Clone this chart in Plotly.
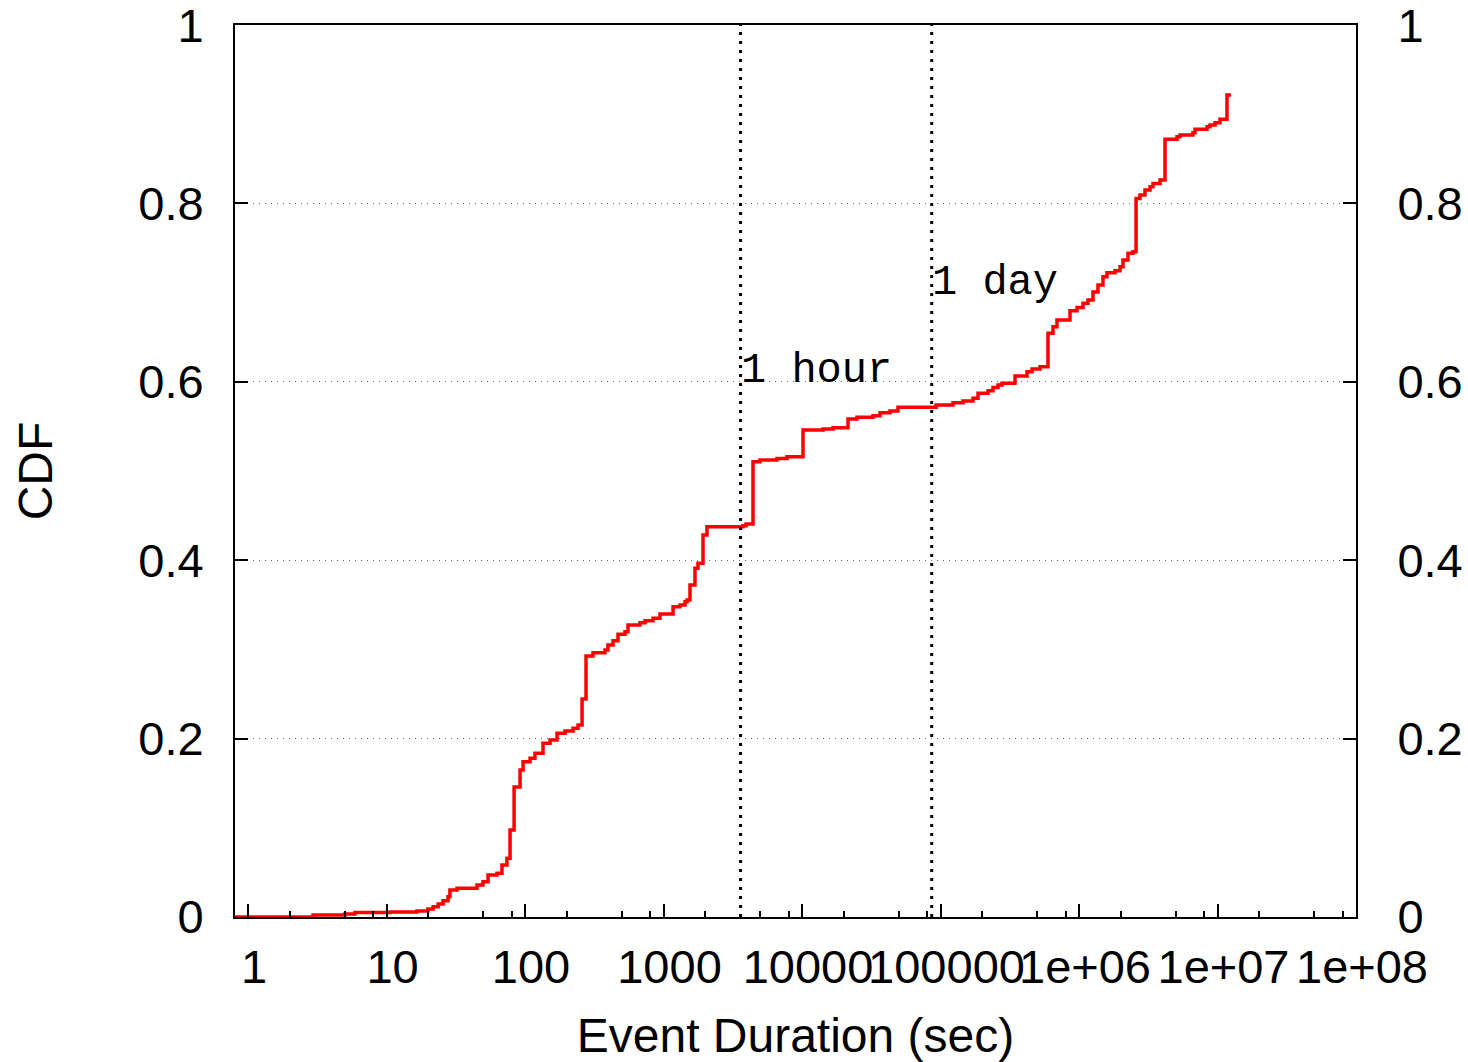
import math
import plotly.graph_objects as go

# ---- data ----
duration_sec = [0.806, 2.95, 5.0, 5.92, 10.6, 16.6, 19.9, 21.7, 23.6, 25.6, 27.8, 28.7, 32.3,
                45.0, 49.7, 54.1, 62.8, 68.2, 74.1, 78.0, 83.4, 92.1, 96.8, 108.7, 118,
                134.9, 151.6, 170.3, 194.5, 222.2, 241.5, 258.2, 275.7, 309.7, 378, 397,
                431.9, 469.3, 527, 554, 676, 735, 840, 943, 1172, 1316, 1430, 1479, 1553,
                1687, 1774, 1928, 2061, 3750, 3945, 4428, 4975, 6597, 7795, 10170, 14180,
                16750, 21490, 24950, 32560, 36570, 43180, 49300, 92900, 123100, 145300,
                171700, 186600, 220300, 239400, 260100, 278000, 345100, 421400, 458100,
                522800, 597000, 648700, 693400, 860900, 967500, 1069000, 1161000, 1262000,
                1371000, 1490000, 1592000, 1820000, 1977000, 2078000, 2259000, 2455000,
                2581000, 2756000, 2997000, 3257000, 3422000, 3845000, 4178000, 5102000,
                5360000, 6652000, 6880000, 8400000, 8832000, 9594000, 10420000, 11710000,
                12510000]
cdf = [0.0, 0.0022, 0.0034, 0.0050, 0.0056, 0.0067, 0.0090, 0.0115, 0.0146, 0.0183, 0.0228,
       0.0303, 0.0322, 0.0359, 0.0396, 0.0471, 0.0490, 0.0583, 0.0658, 0.0975, 0.1457,
       0.1648, 0.1741, 0.1779, 0.1835, 0.1947, 0.1984, 0.2059, 0.2085, 0.2115, 0.2152,
       0.2444, 0.2926, 0.2963, 0.2993, 0.3049, 0.3098, 0.3169, 0.3198, 0.3274, 0.3299,
       0.3322, 0.3349, 0.3397, 0.3479, 0.3498, 0.3535, 0.3554, 0.3722, 0.3909, 0.3965,
       0.4283, 0.4376, 0.4387, 0.4406, 0.5104, 0.5123, 0.5142, 0.5160, 0.5460, 0.5471,
       0.5486, 0.5583, 0.5602, 0.5620, 0.5654, 0.5673, 0.5714, 0.5740, 0.5766, 0.5785,
       0.5815, 0.5871, 0.5900, 0.5938, 0.5964, 0.5983, 0.6065, 0.6113, 0.6143, 0.6169,
       0.6544, 0.6618, 0.6693, 0.6797, 0.6835, 0.6880, 0.6917, 0.7007, 0.7085, 0.7178,
       0.7223, 0.7246, 0.7290, 0.7365, 0.7441, 0.7458, 0.8057, 0.8094, 0.8150, 0.8187,
       0.8225, 0.8262, 0.8719, 0.8748, 0.8767, 0.8792, 0.8831, 0.8860, 0.8879, 0.8904,
       0.8943, 0.9215, 0.9215]

ref_lines_sec = [3600, 86400]
ref_labels = ["1 hour", "1 day"]
ref_label_y = [0.612, 0.711]

x_tick_vals = [1, 10, 100, 1000, 10000, 100000, 1e6, 1e7, 1e8]
x_tick_text = ["1", "10", "100", "1000", "10000", "100000", "1e+06", "1e+07", "1e+08"]
x_minor_vals = [m * 10 ** k for k in range(0, 8) for m in (2, 5, 8)]
y_tick_vals = [0, 0.2, 0.4, 0.6, 0.8, 1]
y_tick_text = ["0", "0.2", "0.4", "0.6", "0.8", "1"]

SANS = "Liberation Sans, Arial, sans-serif"
MONO = "Liberation Mono, Courier New, monospace"
FS = 47
TFS = 48

fig = go.Figure()

fig.add_trace(go.Scatter(
    x=duration_sec, y=cdf, mode="lines", line=dict(color="#ff0000", width=3.5, shape="hv"),
    showlegend=False, hoverinfo="skip"))

for xv in ref_lines_sec:
    fig.add_trace(go.Scatter(
        x=[xv, xv], y=[0, 1], mode="lines", yaxis="y2",
        line=dict(color="black", width=3, dash="3px,6px"),
        showlegend=False, hoverinfo="skip"))

for xv, yv, t in zip(ref_lines_sec, ref_label_y, ref_labels):
    fig.add_annotation(x=math.log10(xv), y=yv, xref="x", yref="y", text=t, showarrow=False,
                       xanchor="left", yanchor="middle", xshift=-2,
                       font=dict(family=MONO, size=42, color="black"))

fig.update_layout(
    width=1468, height=1062,
    margin=dict(l=235, r=112, t=25, b=145, autoexpand=False),
    paper_bgcolor="white", plot_bgcolor="white",
    xaxis=dict(
        type="log", range=[-0.094, 8], automargin=False,
        tickmode="array", tickvals=x_tick_vals, ticktext=x_tick_text, tickangle=0,
        ticks="inside", ticklen=13, tickwidth=2, tickcolor="black",
        minor=dict(tickmode="array", tickvals=x_minor_vals, ticks="inside", ticklen=6,
                   tickwidth=2, tickcolor="black", showgrid=False),
        showline=True, linecolor="black", linewidth=2, mirror=True,
        showgrid=False, zeroline=False,
        tickfont=dict(family=SANS, size=FS, color="black"),
        ticklabelstandoff=8, ticklabelshift=6, ticklabeloverflow="allow",
        title=dict(text="Event Duration (sec)", font=dict(family=SANS, size=TFS, color="black"),
                   standoff=32),
    ),
    yaxis=dict(
        range=[0, 1.0001], automargin=False,
        tickmode="array", tickvals=y_tick_vals, ticktext=y_tick_text,
        ticks="inside", ticklen=13, tickwidth=2, tickcolor="black",
        showline=True, linecolor="black", linewidth=2,
        showgrid=True, gridcolor="#666666", gridwidth=1, griddash="1px,5px",
        zeroline=False,
        tickfont=dict(family=SANS, size=FS, color="black"),
        ticklabelstandoff=20, ticklabeloverflow="allow",
        title=dict(text="CDF", font=dict(family=SANS, size=TFS, color="black"), standoff=70),
    ),
    yaxis2=dict(
        range=[0, 1.0001], overlaying="y", side="right", automargin=False,
        tickmode="array", tickvals=y_tick_vals, ticktext=y_tick_text,
        ticks="inside", ticklen=13, tickwidth=2, tickcolor="black",
        showline=True, linecolor="black", linewidth=2,
        showgrid=False, zeroline=False,
        tickfont=dict(family=SANS, size=FS, color="black"),
        ticklabelstandoff=30, ticklabeloverflow="allow",
    ),
)

fig.write_html("out.html")
